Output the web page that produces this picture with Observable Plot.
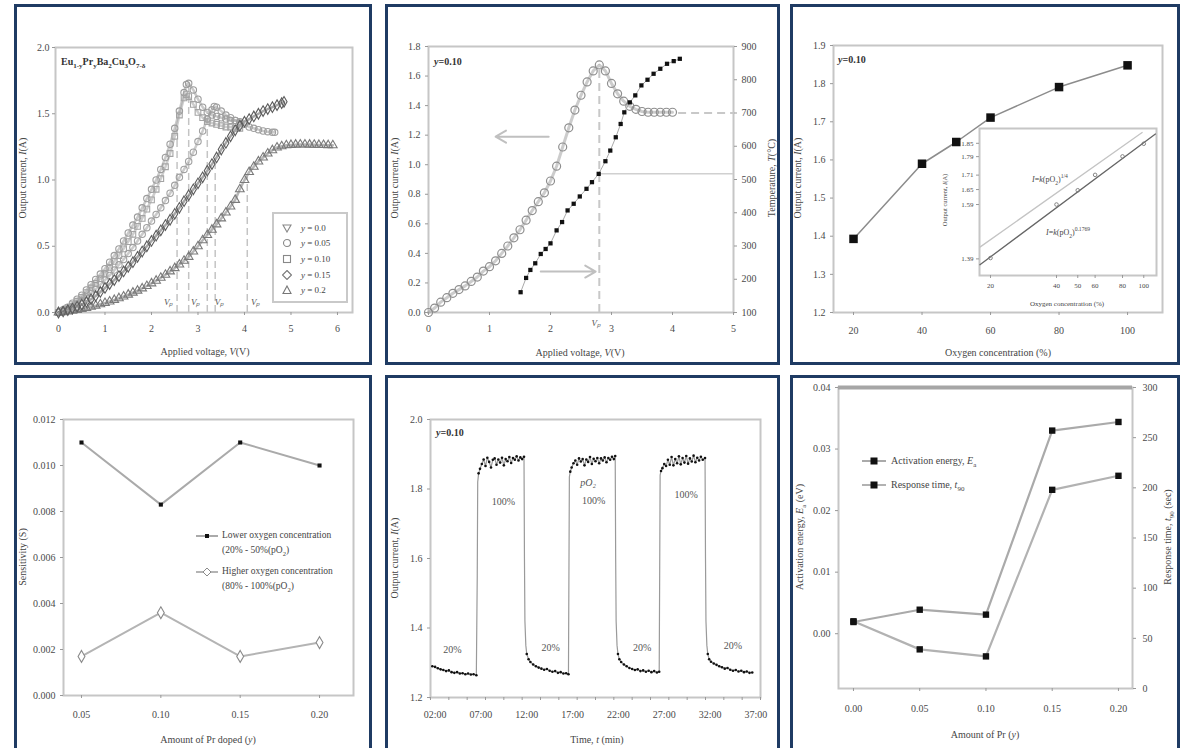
<!DOCTYPE html>
<html><head><meta charset="utf-8">
<script src="https://cdn.jsdelivr.net/npm/d3@7"></script>
<script src="https://cdn.jsdelivr.net/npm/@observablehq/plot@0.6"></script>
<style>
html,body{margin:0;padding:0;background:#fff;}
body{width:1181px;height:748px;overflow:hidden;position:relative;font-family:"Liberation Serif","Times New Roman",serif;color:#454545;}
.panel{position:absolute;border:3px solid #1f3b63;box-sizing:border-box;}
.lbl{position:absolute;white-space:nowrap;font-size:10px;line-height:1;}
.lbl sub,.lbl sup{font-size:70%;line-height:0;}
.legbox{position:absolute;border:2px solid #c9c9c9;background:#fff;box-sizing:border-box;}
</style></head><body>
<div class="panel" style="left:14px;top:4px;width:358px;height:361px"></div>
<div class="panel" style="left:385px;top:4px;width:395px;height:361px"></div>
<div class="panel" style="left:790px;top:4px;width:390px;height:361px"></div>
<div class="panel" style="left:14px;top:375px;width:358px;height:380px"></div>
<div class="panel" style="left:385px;top:375px;width:395px;height:380px"></div>
<div class="panel" style="left:790px;top:375px;width:390px;height:380px"></div>
<script>
// ---------------- DATA ----------------
// Panel 1: I–V curves for Eu(1-y)Pr(y)Ba2Cu3O(7-δ)
const voltsAB = [0,0.1,0.2,0.3,0.4,0.5,0.6,0.7,0.8,0.9,1.0,1.1,1.2,1.3,1.4,1.5,1.6,1.7,1.8,1.9,2.0,2.1,2.2,2.3,2.4,2.5,2.6,2.7,2.75,2.8,2.9,3.0,3.1,3.2,3.3,3.4,3.5,3.6,3.7,3.8,3.9];
const currentA = [0.00,0.02,0.04,0.07,0.10,0.13,0.17,0.21,0.25,0.29,0.33,0.38,0.43,0.48,0.54,0.60,0.66,0.72,0.79,0.86,0.93,1.00,1.08,1.17,1.27,1.39,1.52,1.66,1.72,1.73,1.68,1.61,1.55,1.51,1.49,1.48,1.47,1.46,1.45,1.45,1.44];
const currentB = [0.00,0.015,0.035,0.06,0.085,0.115,0.15,0.185,0.22,0.255,0.295,0.34,0.385,0.43,0.48,0.535,0.59,0.65,0.71,0.78,0.85,0.93,1.01,1.10,1.20,1.33,1.49,1.62,1.645,1.63,1.57,1.51,1.47,1.44,1.43,1.42,1.41,1.40,1.40,1.39,1.39];
const voltsC = [0,0.1,0.2,0.3,0.4,0.5,0.6,0.7,0.8,0.9,1.0,1.1,1.2,1.3,1.4,1.5,1.6,1.7,1.8,1.9,2.0,2.1,2.2,2.3,2.4,2.5,2.6,2.7,2.8,2.9,3.0,3.1,3.2,3.3,3.35,3.4,3.5,3.6,3.7,3.8,3.9,4.0,4.1,4.2,4.3,4.4,4.5,4.6,4.65];
const currentC = [0,0.01,0.025,0.045,0.065,0.09,0.115,0.145,0.175,0.21,0.245,0.28,0.32,0.36,0.40,0.445,0.49,0.54,0.59,0.64,0.69,0.74,0.79,0.845,0.90,0.96,1.02,1.08,1.14,1.21,1.29,1.37,1.46,1.53,1.555,1.55,1.52,1.49,1.47,1.45,1.43,1.42,1.40,1.39,1.38,1.37,1.365,1.36,1.36];
const voltsD = [0,0.1,0.2,0.3,0.4,0.5,0.6,0.7,0.8,0.9,1.0,1.1,1.2,1.3,1.4,1.5,1.6,1.7,1.8,1.9,2.0,2.1,2.2,2.3,2.4,2.5,2.6,2.7,2.8,2.9,3.0,3.1,3.2,3.3,3.4,3.5,3.6,3.7,3.8,3.9,4.0,4.1,4.2,4.3,4.4,4.5,4.6,4.7,4.8,4.85];
const currentD = [0,0.008,0.018,0.03,0.045,0.06,0.08,0.10,0.125,0.155,0.185,0.215,0.245,0.275,0.31,0.345,0.38,0.42,0.46,0.50,0.54,0.58,0.62,0.66,0.70,0.745,0.79,0.84,0.885,0.93,0.975,1.02,1.07,1.12,1.17,1.23,1.28,1.33,1.375,1.41,1.44,1.46,1.48,1.50,1.52,1.535,1.55,1.565,1.58,1.59];
const voltsE = [0,0.1,0.2,0.3,0.4,0.5,0.6,0.7,0.8,0.9,1.0,1.1,1.2,1.3,1.4,1.5,1.6,1.7,1.8,1.9,2.0,2.1,2.2,2.3,2.4,2.5,2.6,2.7,2.8,2.9,3.0,3.1,3.2,3.3,3.4,3.5,3.6,3.7,3.8,3.9,4.0,4.1,4.2,4.3,4.4,4.5,4.6,4.7,4.8,4.9,5.0,5.1,5.2,5.3,5.4,5.5,5.6,5.7,5.8,5.9];
const currentE = [0,0.003,0.008,0.013,0.02,0.027,0.035,0.043,0.052,0.062,0.072,0.083,0.095,0.108,0.121,0.135,0.15,0.165,0.182,0.20,0.22,0.24,0.262,0.285,0.31,0.335,0.362,0.39,0.42,0.46,0.50,0.545,0.585,0.625,0.665,0.71,0.755,0.80,0.85,0.93,1.00,1.06,1.10,1.14,1.17,1.20,1.225,1.245,1.255,1.262,1.265,1.267,1.268,1.268,1.267,1.266,1.265,1.264,1.263,1.262];
const legend1Labels = ["0.0","0.05","0.10","0.15","0.2"];
const vpVolts = [2.55, 2.8, 3.2, 3.37, 4.06];
const vpTops = [1.40, 1.73, 1.50, 1.15, 1.02];
const vpLabelVolts = [2.37, 2.95, 3.46, 4.24];

// Panel 2: y = 0.10, current and temperature vs voltage
const volts2 = [0,0.1,0.2,0.3,0.4,0.5,0.6,0.7,0.8,0.9,1.0,1.1,1.2,1.3,1.4,1.5,1.6,1.7,1.8,1.9,2.0,2.1,2.2,2.3,2.4,2.5,2.6,2.7,2.8,2.9,3.0,3.1,3.2,3.3,3.4,3.5,3.6,3.7,3.8,3.9,4.0];
const current2 = [0.0,0.03,0.07,0.10,0.13,0.155,0.18,0.21,0.24,0.28,0.31,0.35,0.40,0.45,0.505,0.56,0.625,0.69,0.75,0.81,0.89,0.99,1.12,1.25,1.37,1.47,1.56,1.635,1.675,1.635,1.55,1.48,1.43,1.395,1.375,1.36,1.355,1.355,1.355,1.355,1.355];
const voltsT = [1.51,1.60,1.67,1.75,1.84,1.92,2.00,2.10,2.19,2.28,2.38,2.48,2.59,2.68,2.79,2.90,2.98,3.07,3.15,3.21,3.30,3.39,3.49,3.59,3.69,3.80,3.91,4.02,4.12];
const tempC = [161,204,228,248,276,291,308,347,372,407,427,449,472,492,517,555,587,627,667,702,732,753,783,800,818,833,848,856,863];
const peakV2 = 2.8, peakI2 = 1.675, tempAtPeak = 517, tempPlateau = 700, plateauEndV = 4.1;
const arrowsV1 = [1.97, 1.84], arrowsV2 = [1.10, 2.74], arrowsI = [1.19, 0.277];

// Panel 3: current vs oxygen concentration
const oxygenPct = [20, 40, 50, 60, 80, 100];
const current3 = [1.393, 1.59, 1.647, 1.711, 1.791, 1.848];
const insetXTicks = [20, 40, 50, 60, 80, 100];
const insetYTicks = [1.39, 1.59, 1.65, 1.71, 1.79, 1.85];
const fitDarkX = [17.9, 113], fitDarkY = [1.37, 1.893];
const fitLightX = [17.9, 98.3], fitLightY = [1.431, 1.90];

// Panel 4: sensitivity vs Pr amount
const prDoped = [0.05, 0.10, 0.15, 0.20];
const sensLow = [0.0110, 0.0083, 0.0110, 0.0100];
const sensHigh = [0.0017, 0.0036, 0.0017, 0.0023];

// Panel 5: response, output current vs time
const timeMin = [
 1.7,2.0,2.3,2.6,2.9,3.2,3.5,3.8,4.1,4.4,4.7,5.0,5.3,5.6,5.9,6.2,6.5,
 6.6,6.65,6.75,6.9,
 7.1,7.3,7.5,7.7,7.9,8.1,8.3,8.5,8.7,8.9,9.1,9.3,9.5,9.7,9.9,10.1,10.3,10.5,10.7,10.9,11.1,11.3,11.5,11.7,
 11.75,11.8,11.9,12.0,12.2,12.4,12.7,13.0,13.3,13.6,13.9,14.2,14.5,14.8,15.1,15.4,15.7,16.0,16.3,16.55,
 16.6,16.65,16.75,16.9,
 17.1,17.3,17.5,17.7,17.9,18.1,18.3,18.5,18.7,18.9,19.1,19.3,19.5,19.7,19.9,20.1,20.3,20.5,20.7,20.9,21.1,21.3,21.5,21.65,
 21.7,21.75,21.85,21.95,22.1,22.3,22.6,22.9,23.2,23.5,23.8,24.1,24.4,24.7,25.0,25.3,25.6,25.9,26.2,26.45,
 26.5,26.55,26.65,26.8,
 27.0,27.2,27.4,27.6,27.8,28.0,28.2,28.4,28.6,28.8,29.0,29.2,29.4,29.6,29.8,30.0,30.2,30.4,30.6,30.8,31.0,31.2,31.45,
 31.5,31.55,31.65,31.75,31.9,32.1,32.4,32.7,33.0,33.3,33.6,33.9,34.2,34.5,34.8,35.1,35.4,35.7,36.0,36.3,36.6];
const currentTime = [
 1.290,1.288,1.284,1.281,1.279,1.276,1.278,1.273,1.271,1.273,1.269,1.270,1.267,1.269,1.266,1.267,1.264,
 1.55,1.82,1.845,1.858,
 1.872,1.885,1.866,1.890,1.878,1.862,1.884,1.888,1.870,1.885,1.876,1.890,1.868,1.886,1.880,1.892,1.875,1.889,1.884,1.894,1.882,1.891,1.886,1.893,
 1.60,1.42,1.35,1.325,1.31,1.302,1.295,1.29,1.286,1.283,1.28,1.282,1.277,1.274,1.276,1.271,1.273,1.269,1.27,1.267,
 1.55,1.835,1.85,1.862,
 1.874,1.882,1.870,1.888,1.879,1.886,1.868,1.885,1.878,1.892,1.872,1.887,1.880,1.889,1.874,1.888,1.882,1.891,1.877,1.889,1.884,1.893,1.886,1.895,
 1.60,1.42,1.35,1.325,1.31,1.302,1.295,1.29,1.285,1.282,1.279,1.281,1.276,1.278,1.274,1.277,1.273,1.276,1.272,1.274,
 1.55,1.84,1.852,1.86,
 1.872,1.866,1.884,1.870,1.892,1.868,1.886,1.874,1.894,1.871,1.889,1.876,1.895,1.873,1.888,1.879,1.896,1.877,1.890,1.882,1.893,1.884,1.889,
 1.60,1.42,1.35,1.325,1.31,1.303,1.298,1.294,1.29,1.287,1.283,1.285,1.28,1.277,1.279,1.275,1.277,1.273,1.275,1.271,1.272];
const timeTickLabels = [2, 7, 12, 17, 22, 27, 32, 37];
const timeMinorTicks = [1.5,3.5,5.5,7.5,9.5,11.5,13.5,15.5,17.5,19.5,21.5,23.5,25.5,27.5,29.5,31.5,33.5,35.5,37.5];
const lowLabelT = [3.9, 14.6, 24.6, 34.5], lowLabelI = [1.338, 1.344, 1.344, 1.35];
const highLabelT = [9.46, 19.3, 29.4], highLabelI = [1.762, 1.765, 1.782];

// Panel 6: activation energy and response time vs Pr amount
const prAmount = [0.00, 0.05, 0.10, 0.15, 0.20];
const activationE = [0.0019, 0.0039, 0.0031, 0.0330, 0.0344];
const responseT = [67, 39, 32, 198, 212];
const eaTicks = [0.00, 0.01, 0.02, 0.03, 0.04];
const rtTicks = [0, 50, 100, 150, 200, 250, 300];

// ---------------- HELPERS ----------------
const style = {fontFamily: '"Liberation Serif", serif', fontSize: "10px", color: "#4a4a4a", background: "transparent", overflow: "visible"};
const frameGray = {stroke: "#c6c6c6", strokeWidth: 2};
const tk = {tickSize: 3, stroke: "#999", label: null};
function put(svg, left, top) {
  svg.style.position = "absolute";
  svg.style.left = left + "px";
  svg.style.top = top + "px";
  svg.style.maxWidth = "none";
  document.body.appendChild(svg);
}
function label(html, x, y, o = {}) {
  const d = document.createElement("div");
  d.className = "lbl";
  d.innerHTML = html;
  d.style.left = x + "px";
  d.style.top = y + "px";
  let t = o.start ? "translate(0,-50%)" : "translate(-50%,-50%)";
  if (o.rot) t += ` rotate(${o.rot}deg)`;
  d.style.transform = t;
  if (o.size) d.style.fontSize = o.size + "px";
  if (o.weight) d.style.fontWeight = o.weight;
  if (o.color) d.style.color = o.color;
  document.body.appendChild(d);
  return d;
}
const zip = (xs, ys) => xs.map((x, i) => ({x, y: ys[i]}));
const intFmt = d3.format("d");

// ---------------- PANEL 1 ----------------
const curves1 = [
  {data: zip(voltsAB, currentA), symbol: "circle", color: "#9c9c9c"},
  {data: zip(voltsAB, currentB), symbol: "square", color: "#a4a4a4"},
  {data: zip(voltsC, currentC), symbol: "circle", color: "#a0a0a0"},
  {data: zip(voltsE, currentE), symbol: "triangle", color: "#7a7a7a"},
  {data: zip(voltsD, currentD), symbol: "diamond", color: "#5c5c5c"}
];
put(Plot.plot({
  width: 352, height: 355, marginLeft: 38, marginRight: 17, marginTop: 40, marginBottom: 50,
  style, x: {domain: [-0.0645, 6.323]}, y: {domain: [0, 2]},
  marks: [
    Plot.frame(frameGray),
    Plot.ruleX(zip(vpVolts, vpTops), {x: "x", y1: () => 0, y2: "y", stroke: "#c4c4c4", strokeWidth: 1.5, strokeDasharray: "7,4"}),
    ...curves1.map(c => Plot.line(c.data, {x: "x", y: "y", stroke: c.color, strokeWidth: 2.5, strokeOpacity: 0.55})),
    ...curves1.map(c => Plot.dot(c.data, {x: "x", y: "y", r: 3.2, symbol: c.symbol, stroke: c.color, strokeWidth: 1.1})),
    Plot.text(vpLabelVolts, {x: d => d, y: () => 0, dy: -10, text: () => "Vₚ", fontStyle: "italic", fontSize: 9, fill: "#555"}),
    Plot.axisX({...tk, ticks: [0, 1, 2, 3, 4, 5, 6], tickFormat: intFmt, tickPadding: 9}),
    Plot.axisY({...tk, ticks: [0, 0.5, 1, 1.5, 2], tickFormat: d3.format(".1f"), tickPadding: 3})
  ]
}), 17, 7);
label("Output current, <i>I</i>(A)", 23, 178, {rot: -90});
label("Applied voltage, <i>V</i>(V)", 205, 352);
label("Eu<sub>1-y</sub>Pr<sub>y</sub>Ba<sub>2</sub>Cu<sub>3</sub>O<sub>7-δ</sub>", 61, 62, {start: true, weight: "bold", color: "#333"});
{
  const box = document.createElement("div");
  box.className = "legbox";
  Object.assign(box.style, {left: "272px", top: "212px", width: "76px", height: "91px"});
  document.body.appendChild(box);
  const syms = [
    '<polygon points="1,2 9,2 5,9" fill="none" stroke="#888" stroke-width="1.1"/>',
    '<circle cx="5" cy="5" r="3.5" fill="none" stroke="#888" stroke-width="1.1"/>',
    '<rect x="1.5" y="1.5" width="7" height="7" fill="none" stroke="#888" stroke-width="1.1"/>',
    '<polygon points="5,0.5 9.5,5 5,9.5 0.5,5" fill="none" stroke="#777" stroke-width="1.1"/>',
    '<polygon points="5,1 9,8.5 1,8.5" fill="none" stroke="#777" stroke-width="1.1"/>'
  ];
  const rows = [228, 243, 259, 275, 290];
  legend1Labels.forEach((t, i) => {
    const s = document.createElement("div");
    s.innerHTML = `<svg width="10" height="10">${syms[i]}</svg>`;
    Object.assign(s.style, {position: "absolute", left: "282px", top: (rows[i] - 5) + "px", width: "10px", height: "10px", lineHeight: 0});
    document.body.appendChild(s);
    label(`<i>y</i> = ${t}`, 301, rows[i], {start: true, size: 9});
  });
}

// ---------------- PANEL 2 ----------------
const toI = T => (T - 100) / 800 * 1.8;
const fromI = v => 100 + v / 1.8 * 800;
put(Plot.plot({
  width: 389, height: 355, marginLeft: 40, marginRight: 44, marginTop: 39, marginBottom: 50,
  style, x: {domain: [0, 5]}, y: {domain: [0, 1.8]},
  marks: [
    Plot.frame(frameGray),
    Plot.ruleX([{x: peakV2, y: peakI2}], {x: "x", y1: () => 0, y2: "y", stroke: "#c8c8c8", strokeWidth: 2, strokeDasharray: "8,5"}),
    Plot.ruleY([{y: toI(tempPlateau), x1: plateauEndV, x2: 5}], {y: "y", x1: "x1", x2: "x2", stroke: "#c8c8c8", strokeWidth: 2, strokeDasharray: "8,5"}),
    Plot.ruleY([{y: toI(tempAtPeak), x1: peakV2, x2: 5}], {y: "y", x1: "x1", x2: "x2", stroke: "#d0d0d0", strokeWidth: 1.5}),
    Plot.arrow(arrowsI.map((y, i) => ({x1: arrowsV1[i], x2: arrowsV2[i], y})), {x1: "x1", x2: "x2", y1: "y", y2: "y", stroke: "#c0c0c0", strokeWidth: 2, headLength: 9}),
    Plot.line(zip(volts2, current2), {x: "x", y: "y", stroke: "#9a9a9a", strokeWidth: 3, strokeOpacity: 0.5}),
    Plot.dot(zip(volts2, current2), {x: "x", y: "y", r: 4, stroke: "#8e8e8e", strokeWidth: 1.2}),
    Plot.line(zip(voltsT, tempC.map(toI)), {x: "x", y: "y", stroke: "#aaa", strokeWidth: 1}),
    Plot.dot(zip(voltsT, tempC.map(toI)), {x: "x", y: "y", symbol: "square", r: 2.4, fill: "#111"}),
    Plot.text([peakV2], {x: d => d - 0.05, y: () => 0, dy: 11, text: () => "Vₚ", fontStyle: "italic", fontSize: 9, fill: "#555"}),
    Plot.axisX({...tk, ticks: [0, 1, 2, 3, 4, 5], tickFormat: intFmt, tickPadding: 9}),
    Plot.axisY({...tk, ticks: [0, 0.2, 0.4, 0.6, 0.8, 1.0, 1.2, 1.4, 1.6, 1.8], tickFormat: d3.format(".1f"), tickPadding: 5}),
    Plot.axisY([100, 200, 300, 400, 500, 600, 700, 800, 900].map(toI), {...tk, anchor: "right", tickFormat: d => Math.round(fromI(d)), tickPadding: 5})
  ]
}), 388, 7);
label("<i>y</i>=0.10", 434, 62, {start: true, weight: "bold", color: "#333"});
label("Output current, <i>I</i>(A)", 395, 178, {rot: -90});
label("Temperature, <i>T</i>(°C)", 772, 178, {rot: -90});
label("Applied voltage, <i>V</i>(V)", 580, 353);

// ---------------- PANEL 3 ----------------
put(Plot.plot({
  width: 383, height: 355, marginLeft: 40, marginRight: 14, marginTop: 38, marginBottom: 50,
  style, x: {domain: [14.16, 110.2]}, y: {domain: [1.2, 1.9]},
  marks: [
    Plot.frame(frameGray),
    Plot.line(zip(oxygenPct, current3), {x: "x", y: "y", stroke: "#8c8c8c", strokeWidth: 1.5}),
    Plot.dot(zip(oxygenPct, current3), {x: "x", y: "y", symbol: "square", r: 4.8, fill: "#111"}),
    Plot.axisX({...tk, ticks: [20, 40, 60, 80, 100], tickFormat: intFmt, tickPadding: 11}),
    Plot.axisY({...tk, ticks: [1.2, 1.3, 1.4, 1.5, 1.6, 1.7, 1.8, 1.9], tickFormat: d3.format(".1f"), tickPadding: 5})
  ]
}), 793, 7);
put(Plot.plot({
  width: 225, height: 185, marginLeft: 39, marginRight: 9, marginTop: 6, marginBottom: 32,
  style: {...style, fontSize: "7px"},
  x: {type: "log", domain: [17.82, 114.3]}, y: {type: "log", domain: [1.334, 1.919]},
  marks: [
    Plot.frame({...frameGray, fill: "white"}),
    Plot.line(zip(fitLightX, fitLightY), {x: "x", y: "y", stroke: "#c4c4c4", strokeWidth: 1.3}),
    Plot.line(zip(fitDarkX, fitDarkY), {x: "x", y: "y", stroke: "#666", strokeWidth: 1.3}),
    Plot.dot(zip(oxygenPct, current3), {x: "x", y: "y", r: 1.8, stroke: "#777", strokeWidth: 0.9}),
    Plot.axisX({...tk, ticks: insetXTicks, tickFormat: d => d, tickPadding: 5}),
    Plot.axisY({...tk, ticks: insetYTicks, tickFormat: d3.format(".2f"), tickPadding: 3})
  ]
}), 940, 122);
label("<i>y</i>=0.10", 838, 60, {start: true, weight: "bold", color: "#333"});
label("Output current, <i>I</i>(A)", 798, 178, {rot: -90});
label("Oxygen concentration (%)", 998, 353);
label("<i>I</i>=<i>k</i>(pO<sub>2</sub>)<sup>1/4</sup>", 1050, 180, {size: 8});
label("<i>I</i>=<i>k</i>(pO<sub>2</sub>)<sup>0.1769</sup>", 1068, 233, {size: 8});
label("Output current, <i>I</i>(A)", 945, 200, {rot: -90, size: 6.5});
label("Oxygen concentration (%)", 1067, 304, {size: 7});

// ---------------- PANEL 4 ----------------
put(Plot.plot({
  width: 352, height: 370, marginLeft: 46, marginRight: 16, marginTop: 41, marginBottom: 53,
  style, x: {domain: [0.03866, 0.2214]}, y: {domain: [0, 0.012]},
  marks: [
    Plot.frame(frameGray),
    Plot.line(zip(prDoped, sensLow), {x: "x", y: "y", stroke: "#aaa", strokeWidth: 2}),
    Plot.line(zip(prDoped, sensHigh), {x: "x", y: "y", stroke: "#b4b4b4", strokeWidth: 2}),
    Plot.dot(zip(prDoped, sensLow), {x: "x", y: "y", symbol: "square", r: 2.3, fill: "#111"}),
    Plot.dot(zip(prDoped, sensHigh), {x: "x", y: "y", symbol: "diamond", r: 3.6, stroke: "#8a8a8a", fill: "white", strokeWidth: 1.1}),
    Plot.axisX({...tk, ticks: prDoped, tickFormat: d3.format(".2f"), tickPadding: 12}),
    Plot.axisY({...tk, ticks: [0, 0.002, 0.004, 0.006, 0.008, 0.010, 0.012], tickFormat: d3.format(".3f"), tickPadding: 5})
  ]
}), 17, 378);
label("Sensitivity (S)", 23, 557, {rot: -90});
label("Amount of Pr doped (<i>y</i>)", 208, 740);
{
  const s1 = document.createElement("div");
  s1.innerHTML = '<svg width="22" height="50"><line x1="0" y1="4" x2="22" y2="4" stroke="#aaa" stroke-width="2"/><rect x="9" y="2" width="4" height="4" fill="#111"/><line x1="0" y1="40" x2="22" y2="40" stroke="#b4b4b4" stroke-width="2"/><polygon points="11,36 15,40 11,44 7,40" fill="#fff" stroke="#8a8a8a"/></svg>';
  Object.assign(s1.style, {position: "absolute", left: "196px", top: "532px", lineHeight: 0});
  document.body.appendChild(s1);
  label("Lower oxygen concentration", 222, 536, {start: true, size: 9.5});
  label("(20% - 50%(pO<sub>2</sub>)", 222, 551, {start: true, size: 9.5});
  label("Higher oxygen concentration", 222, 572, {start: true, size: 9.5});
  label("(80% - 100%(pO<sub>2</sub>)", 222, 587, {start: true, size: 9.5});
}

// ---------------- PANEL 5 ----------------
const series5 = zip(timeMin, currentTime);
put(Plot.plot({
  width: 389, height: 370, marginLeft: 42, marginRight: 17, marginTop: 41, marginBottom: 51,
  style, x: {domain: [1.5, 37.5]}, y: {domain: [1.2, 2.0]},
  marks: [
    Plot.frame(frameGray),
    Plot.line(series5, {x: "x", y: "y", stroke: "#9a9a9a", strokeWidth: 1.2}),
    Plot.dot(series5.filter(d => d.y < 1.34 || d.y > 1.84), {x: "x", y: "y", r: 1.3, fill: "#111"}),
    Plot.text(lowLabelT, {x: d => d, y: (d, i) => lowLabelI[i], text: () => "20%", fill: "#555"}),
    Plot.text(highLabelT, {x: d => d, y: (d, i) => highLabelI[i], text: () => "100%", fill: "#555"}),
    Plot.text([18.7], {x: d => d, y: () => 1.817, text: () => "pO₂", fill: "#555", fontStyle: "italic"}),
    Plot.axisX({...tk, ticks: timeMinorTicks, tickFormat: () => ""}),
    Plot.axisX({...tk, ticks: timeTickLabels, tickSize: 0, tickPadding: 13, tickFormat: d => String(d).padStart(2, "0") + ":00"}),
    Plot.axisY({...tk, ticks: [1.2, 1.4, 1.6, 1.8, 2.0], tickFormat: d3.format(".1f"), tickPadding: 5})
  ]
}), 388, 378);
label("<i>y</i>=0.10", 436, 433, {start: true, weight: "bold", color: "#333"});
label("Output current, <i>I</i>(A)", 395, 558, {rot: -90});
label("Time, <i>t</i> (min)", 597, 740);

// ---------------- PANEL 6 ----------------
const eaLo = -0.0089, eaHi = 0.04;
const tToE = t => eaLo + t / 300 * (eaHi - eaLo);
const eToT = e => (e - eaLo) / (eaHi - eaLo) * 300;
put(Plot.plot({
  width: 383, height: 370, marginLeft: 45, marginRight: 44, marginTop: 9, marginBottom: 60,
  style, x: {domain: [-0.0113, 0.2106]}, y: {domain: [eaLo, eaHi]},
  marks: [
    Plot.frame(frameGray),
    Plot.ruleY([eaHi], {stroke: "#a6a6a6", strokeWidth: 4}),
    Plot.line(zip(prAmount, activationE), {x: "x", y: "y", stroke: "#aaa", strokeWidth: 2.2}),
    Plot.line(zip(prAmount, responseT.map(tToE)), {x: "x", y: "y", stroke: "#b2b2b2", strokeWidth: 2.2}),
    Plot.dot(zip(prAmount, activationE), {x: "x", y: "y", symbol: "square", r: 3.6, fill: "#111"}),
    Plot.dot(zip(prAmount, responseT.map(tToE)), {x: "x", y: "y", symbol: "square", r: 3.6, fill: "#111"}),
    Plot.axisX({...tk, ticks: prAmount, tickFormat: d3.format(".2f"), tickPadding: 13}),
    Plot.axisY({...tk, ticks: eaTicks, tickFormat: d3.format(".2f"), tickPadding: 5}),
    Plot.axisY(rtTicks.map(tToE), {...tk, anchor: "right", tickFormat: d => Math.round(eToT(d)), tickPadding: 7})
  ]
}), 793, 378);
label("Activation energy, <i>E</i><sub>a</sub> (eV)", 800, 537, {rot: -90});
label("Response time, <i>t</i><sub>90</sub> (sec)", 1168, 537, {rot: -90});
label("Amount of Pr (<i>y</i>)", 985, 735);
{
  const s = document.createElement("div");
  s.innerHTML = '<svg width="24" height="32"><line x1="0" y1="4" x2="24" y2="4" stroke="#aaa" stroke-width="2"/><rect x="8.5" y="0.5" width="7" height="7" fill="#111"/><line x1="0" y1="28" x2="24" y2="28" stroke="#b2b2b2" stroke-width="2"/><rect x="8.5" y="24.5" width="7" height="7" fill="#111"/></svg>';
  Object.assign(s.style, {position: "absolute", left: "862px", top: "457px", lineHeight: 0});
  document.body.appendChild(s);
  label("Activation energy, <i>E</i><sub>a</sub>", 891, 461, {start: true});
  label("Response time, <i>t</i><sub>90</sub>", 891, 485, {start: true});
}
</script>
</body></html>
